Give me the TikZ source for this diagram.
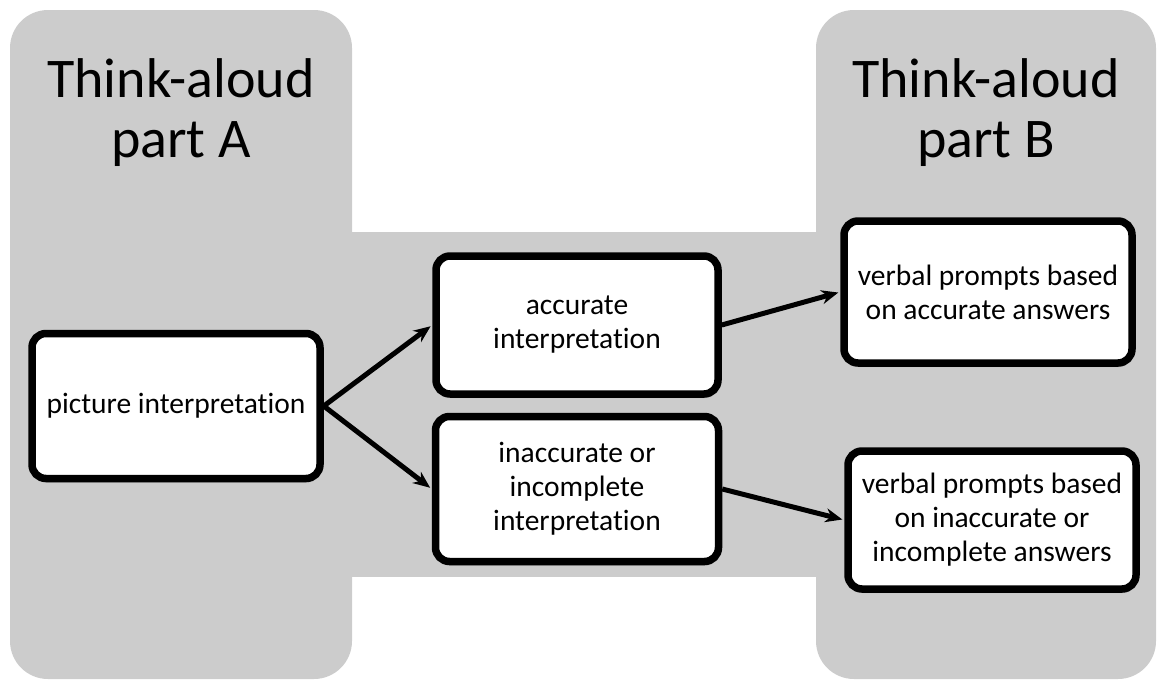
\documentclass[tikz,border=0pt]{standalone}
\usepackage{fontspec}
\setmainfont{Carlito}[Ligatures={NoCommon,NoContextual},Contextuals=NoAlternate]
\usetikzlibrary{shadows,arrows.meta}
\definecolor{panelgray}{gray}{0.8}
\begin{document}
\begin{tikzpicture}[x=1pt,y=-1pt,>={Stealth[length=17pt,width=14pt]},
box/.style={draw,line width=7.5pt,rounded corners=14pt,fill=white,
  minimum width=288pt,minimum height=142pt,align=center,
  font=\fontsize{29.5}{34}\selectfont,
  drop shadow={shadow xshift=1pt,shadow yshift=-4pt,opacity=0.3}},
title/.style={align=center,font=\fontsize{56}{60}\selectfont},
link/.style={->,line width=5pt,shorten >=2pt}]
\useasboundingbox (0,0) rectangle (1158,680);
% grey backdrop: two columns joined by a band
\def\r{38pt}
\fill[panelgray,rounded corners=\r] (10,10) rectangle (352,679);
\fill[panelgray,rounded corners=\r] (816,10) rectangle (1156,679);
\fill[panelgray] (340,232) rectangle (830,577);
\node[title] (titleA) at (181,113) {Think-aloud\\part A};
\node[title] (titleB) at (986,113) {Think-aloud\\part B};
% boxes
\node[box,minimum height=145pt] (pic) at (176,406) {picture interpretation};
\node[box,minimum width=282pt,minimum height=138pt] (acc) at (577,325) {accurate\\interpretation};
\node[box,minimum width=283pt,minimum height=145pt] (inacc) at (577,489) {inaccurate or\\incomplete\\interpretation};
\node[box] (vacc) at (988,292) {verbal prompts based\\on accurate answers};
\node[box,minimum height=138pt] (vinacc) at (992,520) {verbal prompts based\\on inaccurate or\\incomplete answers};
\foreach \a/\b in {pic/acc,pic/inacc,acc/vacc,inacc/vinacc}
\draw[link] (\a.east) -- (\b.west);
\end{tikzpicture}
\end{document}
